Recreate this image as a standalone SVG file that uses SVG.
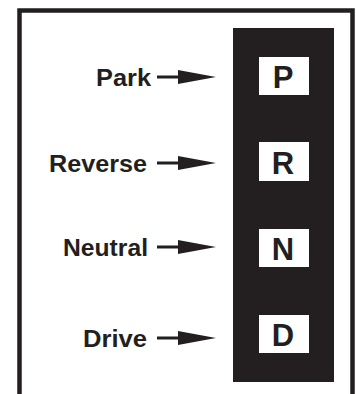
<svg xmlns="http://www.w3.org/2000/svg" width="356" height="394" viewBox="0 0 356 394">
<style>
.lbl{font-family:"Liberation Sans",Arial,sans-serif;font-weight:bold;font-size:24.5px;fill:#231f20}
.gear{font-family:"Liberation Sans",Arial,sans-serif;font-weight:bold;font-size:31px;fill:#231f20;text-anchor:middle}
.box{fill:#ffffff}
.shaft{stroke:#231f20;stroke-width:3;fill:none}
.head{fill:#231f20}
</style>
<rect width="356" height="394" fill="#ffffff"/>
<path d="M19.5 394 V10.5 H352.5 V394" fill="none" stroke="#231f20" stroke-width="4.5"/>
<rect x="233" y="28" width="101" height="354" fill="#231f20"/>
<g id="P">
<rect class="box" x="259" y="57" width="50" height="38"/>
<text class="gear" x="283" y="87.5">P</text>
</g>
<g id="R">
<rect class="box" x="259" y="142" width="50" height="39"/>
<text class="gear" x="283" y="173.5">R</text>
</g>
<g id="N">
<rect class="box" x="259" y="229" width="50" height="38"/>
<text class="gear" x="283" y="259.5">N</text>
</g>
<g id="D">
<rect class="box" x="259" y="315" width="50" height="38"/>
<text class="gear" x="283" y="345.5">D</text>
</g>
<g id="label-park"><text class="lbl" x="96" y="85.5" textLength="55" lengthAdjust="spacingAndGlyphs">Park</text></g>
<g id="label-reverse"><text class="lbl" x="49" y="171.5" textLength="98" lengthAdjust="spacingAndGlyphs">Reverse</text></g>
<g id="label-neutral"><text class="lbl" x="63" y="255.5" textLength="85" lengthAdjust="spacingAndGlyphs">Neutral</text></g>
<g id="label-drive"><text class="lbl" x="83" y="346.5" textLength="64" lengthAdjust="spacingAndGlyphs">Drive</text></g>
<g id="connectors">
<path class="shaft" d="M157 77 H182"/><polygon class="head" points="178,70 216,77 178,84"/>
<path class="shaft" d="M157 163 H182"/><polygon class="head" points="178,156 216,163 178,170"/>
<path class="shaft" d="M157 247 H182"/><polygon class="head" points="178,240 216,247 178,254"/>
<path class="shaft" d="M157 338 H182"/><polygon class="head" points="178,331 216,338 178,345"/>
</g>
</svg>
